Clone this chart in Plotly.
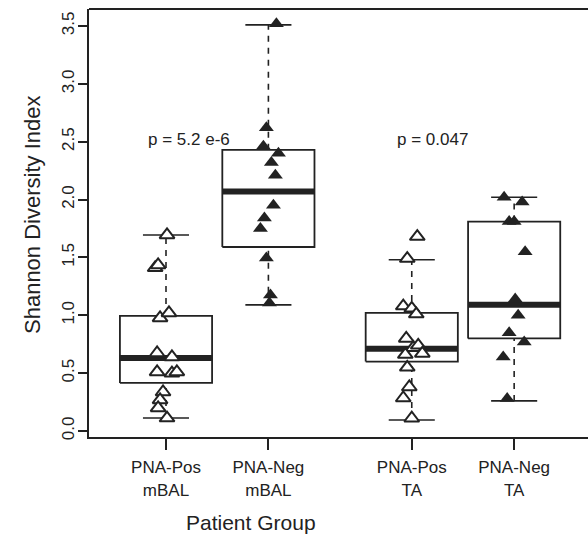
import plotly.graph_objects as go

# ---- data ----
groups = ["PNA-Pos<br>mBAL", "PNA-Neg<br>mBAL", "PNA-Pos<br>TA", "PNA-Neg<br>TA"]
positions = [1.0, 2.0, 3.4, 4.4]

box_low = [0.112, 1.09, 0.095, 0.26]
box_q1 = [0.415, 1.59, 0.60, 0.80]
box_med = [0.63, 2.07, 0.71, 1.09]
box_q3 = [0.994, 2.43, 1.02, 1.81]
box_high = [1.694, 3.51, 1.48, 2.02]

pos_mbal = [1.694, 1.41, 1.435, 0.977, 1.02, 0.674, 0.64, 0.51, 0.50, 0.51, 0.337, 0.268, 0.199, 0.112]
pos_mbal_jit = [0.01, -0.106, -0.077, -0.058, 0.029, -0.087, 0.058, -0.087, 0.058, 0.106, -0.029, -0.058, -0.077, 0.01]

neg_mbal = [3.52, 2.62, 2.46, 2.40, 2.32, 2.21, 1.95, 1.84, 1.75, 1.495, 1.175, 1.106]
neg_mbal_jit = [0.078, -0.02, -0.049, 0.098, 0.029, 0.068, 0.049, -0.039, -0.078, -0.02, 0.02, 0.01]

pos_ta = [1.68, 1.49, 1.08, 1.06, 1.01, 0.80, 0.72, 0.74, 0.66, 0.67, 0.55, 0.38, 0.285, 0.11]
pos_ta_jit = [0.054, -0.044, -0.083, 0.0, 0.044, -0.054, 0.015, 0.063, -0.063, 0.103, -0.044, -0.024, -0.083, 0.0]

neg_ta = [2.02, 1.98, 1.81, 1.81, 1.55, 1.14, 1.00, 0.85, 0.77, 0.64, 0.28]
neg_ta_jit = [-0.098, 0.078, -0.049, 0.0, 0.107, 0.01, 0.039, -0.049, 0.098, -0.107, -0.068]

p_labels = ["p = 5.2 e-6", "p = 0.047"]
p_label_x = [1.22, 3.6]
p_label_y = [2.52, 2.52]

y_ticks = [0.0, 0.5, 1.0, 1.5, 2.0, 2.5, 3.0, 3.5]

# ---- style ----
BOX_W = 0.9
CAP_W = 0.45
INK = "#222222"
FONT = "Liberation Sans, Arial, Helvetica, sans-serif"

FIG_W, FIG_H = 600, 534          # a bit wider than the window so the open right side of the frame is off-screen
PLOT_TOP, PLOT_BOTTOM, PLOT_LEFT = 9, 437, 89
PLOT_W = FIG_W - PLOT_LEFT
PLOT_H = PLOT_BOTTOM - PLOT_TOP
PX_PER_UNIT = 102.4
X_LEFT = 0.248
X_RIGHT = X_LEFT + PLOT_W / PX_PER_UNIT

fig = go.Figure()

for i, x in enumerate(positions):
    l, r = x - BOX_W / 2, x + BOX_W / 2
    fig.add_trace(go.Scatter(x=[x, x], y=[box_q3[i], box_high[i]], mode="lines",
                             line=dict(color=INK, width=1.6, dash="6px,6px"), showlegend=False, hoverinfo="skip"))
    fig.add_trace(go.Scatter(x=[x, x], y=[box_low[i], box_q1[i]], mode="lines",
                             line=dict(color=INK, width=1.6, dash="6px,6px"), showlegend=False, hoverinfo="skip"))
    for v in (box_low[i], box_high[i]):
        fig.add_trace(go.Scatter(x=[x - CAP_W / 2, x + CAP_W / 2], y=[v, v], mode="lines",
                                 line=dict(color=INK, width=1.6), showlegend=False, hoverinfo="skip"))
    fig.add_trace(go.Scatter(x=[l, r, r, l, l], y=[box_q1[i], box_q1[i], box_q3[i], box_q3[i], box_q1[i]],
                             mode="lines", line=dict(color=INK, width=1.8), showlegend=False, hoverinfo="skip"))
    fig.add_trace(go.Scatter(x=[l, r], y=[box_med[i], box_med[i]], mode="lines",
                             line=dict(color=INK, width=6), showlegend=False, hoverinfo="skip"))

series = [(pos_mbal, pos_mbal_jit, 0, True), (neg_mbal, neg_mbal_jit, 1, False),
          (pos_ta, pos_ta_jit, 2, True), (neg_ta, neg_ta_jit, 3, False)]
for vals, jit, gi, is_open in series:
    xs = [positions[gi] + j for j in jit]
    if is_open:
        marker = dict(symbol="triangle-up", size=13, color="white", line=dict(color=INK, width=2))
    else:
        marker = dict(symbol="triangle-up", size=13, color=INK, line=dict(color=INK, width=0))
    fig.add_trace(go.Scatter(x=xs, y=vals, mode="markers", marker=marker, showlegend=False))

for t, x, y in zip(p_labels, p_label_x, p_label_y):
    fig.add_annotation(x=x, y=y, text=t, showarrow=False, font=dict(size=17, color=INK, family=FONT))

fig.add_annotation(xref="paper", yref="paper", x=(251 - PLOT_LEFT) / PLOT_W, y=(PLOT_BOTTOM - 522) / PLOT_H,
                   text="Patient Group", showarrow=False, xanchor="center", yanchor="middle",
                   font=dict(size=21, color=INK, family=FONT))
fig.add_annotation(xref="paper", yref="paper", x=(32 - PLOT_LEFT) / PLOT_W, y=(PLOT_BOTTOM - 215) / PLOT_H,
                   text="Shannon Diversity Index", showarrow=False, textangle=-90,
                   xanchor="center", yanchor="middle", font=dict(size=22, color=INK, family=FONT))

fig.add_shape(type="line", xref="paper", yref="paper", x0=0, x1=1, y0=1, y1=1,
              line=dict(color=INK, width=2))

fig.update_layout(
    width=FIG_W, height=FIG_H,
    margin=dict(l=PLOT_LEFT, r=0, t=PLOT_TOP, b=FIG_H - PLOT_BOTTOM, autoexpand=False),
    paper_bgcolor="white", plot_bgcolor="white",
    font=dict(family=FONT, color=INK),
    xaxis=dict(range=[X_LEFT, X_RIGHT], tickmode="array", tickvals=positions, ticktext=groups,
               ticks="outside", ticklen=11, tickwidth=1.5, tickcolor=INK, automargin=False,
               ticklabelstandoff=3,
               showline=True, linecolor=INK, linewidth=2, showgrid=False, zeroline=False,
               tickfont=dict(size=17, color=INK, family=FONT)),
    yaxis=dict(range=[-0.052, 3.647], tickmode="array", tickvals=y_ticks,
               ticktext=[f"{v:.1f}" for v in y_ticks], tickangle=-90,
               ticks="outside", ticklen=9, tickwidth=1.5, tickcolor=INK, automargin=False,
               ticklabelstandoff=-3,
               showline=True, linecolor=INK, linewidth=2, showgrid=False, zeroline=False,
               tickfont=dict(size=17, color=INK, family=FONT)),
)

fig.write_html("out.html", config={"displayModeBar": False},
               post_script="document.body.style.margin='0';document.body.style.overflow='hidden';")
